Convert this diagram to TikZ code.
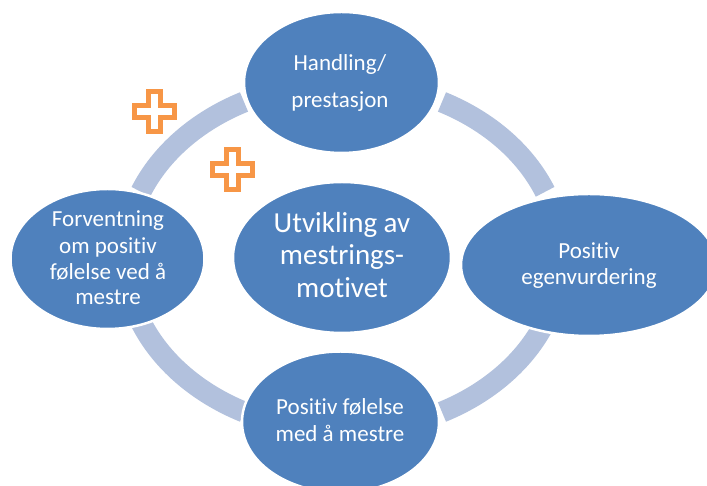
\documentclass[tikz,border=0pt]{standalone}
\usepackage{fontspec}
\setmainfont{Carlito}[Ligatures={NoCommon}]
\usetikzlibrary{shapes.geometric}
\definecolor{ellblue}{HTML}{4F81BD}
\definecolor{ringblue}{HTML}{B2C1DD}
\definecolor{plusorange}{HTML}{F79646}
\tikzset{
  bubble/.style={ellipse, fill=ellblue, draw=white, line width=2.5pt, inner sep=0pt, outer sep=0pt},
  ringarc/.style={draw=ringblue, line width=21pt, line cap=butt},
  txt/.style={text=white, anchor=base, inner sep=0pt, font=\fontsize{23}{26}\selectfont},
  bigtxt/.style={text=white, anchor=base, inner sep=0pt, font=\fontsize{29}{32}\selectfont},
  plusshape/.style={draw=plusorange, fill=white, line width=5pt, line join=miter},
  pluspic/.pic={
    \path[plusshape] (-6,20) -- (6,20) -- (6,6) -- (20,6) -- (20,-6) -- (6,-6) -- (6,-20)
      -- (-6,-20) -- (-6,-6) -- (-20,-6) -- (-20,6) -- (-6,6) -- cycle;
  }
}
\begin{document}
\begin{tikzpicture}[x=1pt,y=1pt]
\useasboundingbox (0,0) rectangle (707,486);
\clip (0,0) rectangle (707,486);
\fill[white] (0,0) rectangle (707,486);
% ring
\coordinate (rc) at (343,229);
\draw[ringarc] ([shift={(rc)}]22:218 and 174) arc[start angle=22, end angle=63, x radius=218, y radius=174];
\draw[ringarc] ([shift={(rc)}]117:218 and 174) arc[start angle=117, end angle=158, x radius=218, y radius=174];
\draw[ringarc] ([shift={(rc)}]202:218 and 174) arc[start angle=202, end angle=243, x radius=218, y radius=174];
\draw[ringarc] ([shift={(rc)}]297:218 and 174) arc[start angle=297, end angle=338, x radius=218, y radius=174];
% bubbles
\node[bubble, minimum width=195pt, minimum height=141pt] (top) at (341.5,403.5) {};
\node[bubble, minimum width=256pt, minimum height=142pt] (right) at (589,221) {};
\node[bubble, minimum width=194pt, minimum height=140pt] (left) at (107.5,227) {};
\node[bubble, minimum width=218pt, minimum height=151pt] (center) at (342,228.5) {};
\node[bubble, minimum width=197pt, minimum height=141pt] (bottom) at (340.5,64) {};
% texts
\node[txt] (t1) at (340,415) {Handling/};
\node[txt] (t2) at (340,378) {prestasjon};
\node[txt] (r1) at (589,227) {Positiv};
\node[txt] (r2) at (589,201) {egenvurdering};
\node[txt] (l1) at (108,259.3) {Forventning};
\node[txt] (l2) at (108,232) {om positiv};
\node[txt] (l3) at (108,206) {følelse ved å};
\node[txt] (l4) at (108,181) {mestre};
\node[bigtxt] (c1) at (342,253) {Utvikling av};
\node[bigtxt] (c2) at (342,221) {mestrings-};
\node[bigtxt] (c3) at (342,188) {motivet};
\node[txt] (b1) at (340,71) {Positiv følelse};
\node[txt] (b2) at (340,44.3) {med å mestre};
% plus signs
\pic at (154,374) {pluspic};
\pic at (232.5,316) {pluspic};
\end{tikzpicture}
\end{document}
